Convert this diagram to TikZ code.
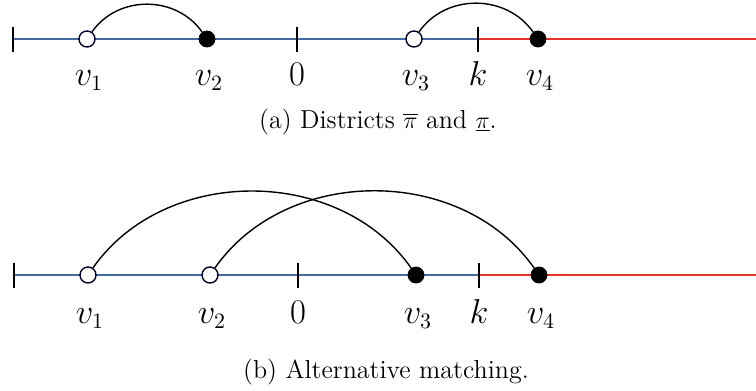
\documentclass[tikz,border=0pt]{standalone}
\definecolor{lineblue}{RGB}{68,106,160}
\definecolor{linered}{RGB}{232,52,40}
\begin{document}
\begin{tikzpicture}[x=0.5pt,y=-0.5pt,
  font=\fontsize{13}{15}\selectfont,
  open/.style={circle,draw=black!85!blue,fill=white,line width=0.7pt,minimum size=8pt,inner sep=0pt},
  filled/.style={circle,draw=black,fill=black,minimum size=8pt,inner sep=0pt},
  tickmark/.style={line width=0.6pt},
  axisblue/.style={lineblue,line width=1pt},
  axisred/.style={linered,line width=1pt},
  arcline/.style={line width=0.7pt,out=55,in=125},
  lab/.style={anchor=base,inner sep=0pt,font=\fontsize{16}{19}\selectfont},
  captext/.style={anchor=base,inner sep=0pt}]
\useasboundingbox (0,0) rectangle (756,391);
% ---------- (a) ----------
\coordinate (aL) at (13,39);
\coordinate (a0) at (297,39);
\coordinate (ak) at (478,39);
\coordinate (aR) at (757,39);
\draw[axisblue] (aL) -- (ak);
\draw[axisred] (ak) -- (aR);
\draw[tickmark] (aL) ++(0,-12.5) -- ++(0,25);
\draw[tickmark] (a0) ++(0,-12.5) -- ++(0,25);
\draw[tickmark] (ak) ++(0,-12.5) -- ++(0,25);
\node[open] (a1) at (87,39) {};
\node[filled] (a2) at (207,39) {};
\node[open] (a3) at (414,39) {};
\node[filled] (a4) at (538,39) {};
\draw[arcline,looseness=1.05] (a1) to (a2);
\draw[arcline,looseness=1.05] (a3) to (a4);
\node[lab] (la1) at (89,85) {$v_1$};
\node[lab] (la2) at (209,85) {$v_2$};
\node[lab] (la0) at (297,85) {$0$};
\node[lab] (la3) at (416,85) {$v_3$};
\node[lab] (lak) at (478,85) {$k$};
\node[lab] (la4) at (540,85) {$v_4$};
\node[captext] (capa) at (378,128) {(a) Districts $\overline{\pi}$ and $\underline{\pi}$.};
% ---------- (b) ----------
\coordinate (bL) at (14,275);
\coordinate (b0) at (298,275);
\coordinate (bk) at (479,275);
\coordinate (bR) at (757,275);
\draw[axisblue] (bL) -- (bk);
\draw[axisred] (bk) -- (bR);
\draw[tickmark] (bL) ++(0,-12.5) -- ++(0,25);
\draw[tickmark] (b0) ++(0,-12.5) -- ++(0,25);
\draw[tickmark] (bk) ++(0,-12.5) -- ++(0,25);
\node[open] (b1) at (88,275) {};
\node[open] (b2) at (210,275) {};
\node[filled] (b3) at (416,275) {};
\node[filled] (b4) at (539,275) {};
\draw[arcline,looseness=1.01] (b1) to (b3);
\draw[arcline,looseness=1.01] (b2) to (b4);
\node[lab] (lb1) at (90,323) {$v_1$};
\node[lab] (lb2) at (212,323) {$v_2$};
\node[lab] (lb0) at (298,323) {$0$};
\node[lab] (lb3) at (418,323) {$v_3$};
\node[lab] (lbk) at (479,323) {$k$};
\node[lab] (lb4) at (541,323) {$v_4$};
\node[captext] (capb) at (386,378) {(b) Alternative matching.};
\end{tikzpicture}
\end{document}
